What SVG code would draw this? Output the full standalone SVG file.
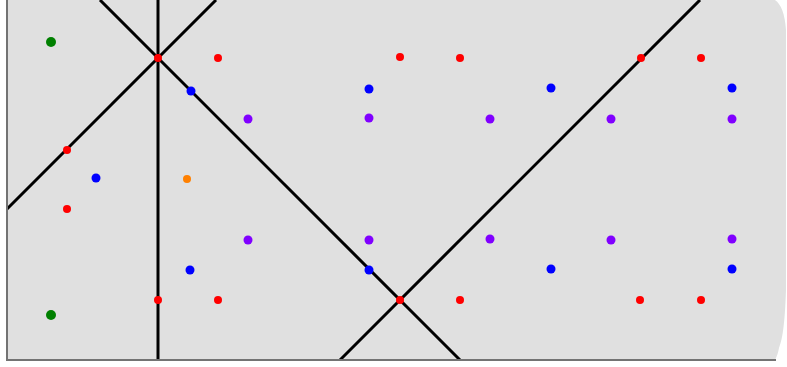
<svg xmlns="http://www.w3.org/2000/svg" width="787" height="367" viewBox="0 0 787 367">
<style>
.ln{stroke:#000;stroke-width:3;fill:none}
.ax{stroke:#737373;stroke-width:2;fill:none}
.r{fill:#ff0000}.b{fill:#0000ff}.p{fill:#8000ff}.g{fill:#008000}.o{fill:#ff8000}
</style>
<rect width="787" height="367" fill="#ffffff"/>
<path d="M7,0 L775,0 C781,4 785,14 786,30 L786,290 C785,320 783,338 779,348 C778,353 777,356 775,360 L7,360 Z" fill="#e0e0e0"/>
<g id="connectors">
<line class="ln" x1="158" y1="0" x2="158" y2="360"/>
<line class="ln" x1="7" y1="209" x2="216" y2="0"/>
<line class="ln" x1="100" y1="0" x2="460" y2="360"/>
<line class="ln" x1="340" y1="360" x2="700" y2="0"/>
</g>
<g id="axes">
<line class="ax" x1="7" y1="0" x2="7" y2="361"/>
<line class="ax" x1="6" y1="360" x2="776" y2="360"/>
</g>
<g id="g1"><circle class="g" cx="51" cy="42" r="5"/></g>
<g id="g2"><circle class="g" cx="51" cy="315" r="5"/></g>
<g id="r1"><circle class="r" cx="158" cy="58" r="4"/></g>
<g id="r2"><circle class="r" cx="218" cy="58" r="4"/></g>
<g id="r3"><circle class="r" cx="400" cy="57" r="4"/></g>
<g id="r4"><circle class="r" cx="460" cy="58" r="4"/></g>
<g id="r5"><circle class="r" cx="641" cy="58" r="4"/></g>
<g id="r6"><circle class="r" cx="701" cy="58" r="4"/></g>
<g id="r7"><circle class="r" cx="67" cy="150" r="4"/></g>
<g id="r8"><circle class="r" cx="67" cy="209" r="4"/></g>
<g id="r9"><circle class="r" cx="158" cy="300" r="4"/></g>
<g id="r10"><circle class="r" cx="218" cy="300" r="4"/></g>
<g id="r11"><circle class="r" cx="400" cy="300" r="4"/></g>
<g id="r12"><circle class="r" cx="460" cy="300" r="4"/></g>
<g id="r13"><circle class="r" cx="640" cy="300" r="4"/></g>
<g id="r14"><circle class="r" cx="701" cy="300" r="4"/></g>
<g id="b1"><circle class="b" cx="191" cy="91" r="4.5"/></g>
<g id="b2"><circle class="b" cx="369" cy="89" r="4.5"/></g>
<g id="b3"><circle class="b" cx="551" cy="88" r="4.5"/></g>
<g id="b4"><circle class="b" cx="732" cy="88" r="4.5"/></g>
<g id="b5"><circle class="b" cx="96" cy="178" r="4.5"/></g>
<g id="b6"><circle class="b" cx="190" cy="270" r="4.5"/></g>
<g id="b7"><circle class="b" cx="369" cy="270" r="4.5"/></g>
<g id="b8"><circle class="b" cx="551" cy="269" r="4.5"/></g>
<g id="b9"><circle class="b" cx="732" cy="269" r="4.5"/></g>
<g id="p1"><circle class="p" cx="248" cy="119" r="4.5"/></g>
<g id="p2"><circle class="p" cx="369" cy="118" r="4.5"/></g>
<g id="p3"><circle class="p" cx="490" cy="119" r="4.5"/></g>
<g id="p4"><circle class="p" cx="611" cy="119" r="4.5"/></g>
<g id="p5"><circle class="p" cx="732" cy="119" r="4.5"/></g>
<g id="p6"><circle class="p" cx="248" cy="240" r="4.5"/></g>
<g id="p7"><circle class="p" cx="369" cy="240" r="4.5"/></g>
<g id="p8"><circle class="p" cx="490" cy="239" r="4.5"/></g>
<g id="p9"><circle class="p" cx="611" cy="240" r="4.5"/></g>
<g id="p10"><circle class="p" cx="732" cy="239" r="4.5"/></g>
<g id="o1"><circle class="o" cx="187" cy="179" r="4"/></g>
</svg>
